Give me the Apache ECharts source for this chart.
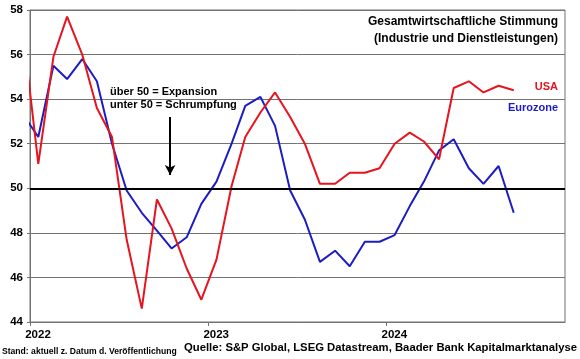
<!DOCTYPE html>
<html>
<head>
<meta charset="utf-8">
<script src="https://cdn.jsdelivr.net/npm/echarts@6/dist/echarts.min.js"></script>
<style>html,body{margin:0;padding:0;background:#fff}#c{width:580px;height:359px}</style>
</head>
<body>
<div id="c"></div>
<script>
// Monthly publication points (Dec 2021 .. Sep 2024)
const months = ['2021-12','2022-01','2022-02','2022-03','2022-04','2022-05','2022-06','2022-07','2022-08','2022-09','2022-10','2022-11','2022-12',
  '2023-01','2023-02','2023-03','2023-04','2023-05','2023-06','2023-07','2023-08','2023-09','2023-10','2023-11','2023-12',
  '2024-01','2024-02','2024-03','2024-04','2024-05','2024-06','2024-07','2024-08','2024-09'];
const usa = [57.0,51.1,55.9,57.7,56.0,53.6,52.3,47.7,44.6,49.5,48.2,46.4,45.0,
  46.8,50.1,52.3,53.4,54.3,53.2,52.0,50.2,50.2,50.7,50.7,50.9,
  52.0,52.5,52.1,51.3,54.5,54.8,54.3,54.6,54.4];
const eurozone = [53.3,52.3,55.5,54.9,55.8,54.8,52.0,49.9,48.9,48.1,47.3,47.8,49.3,
  50.3,52.0,53.7,54.1,52.8,49.9,48.6,46.7,47.2,46.5,47.6,47.6,
  47.9,49.2,50.3,51.7,52.2,50.9,50.2,51.0,48.9];
const yTicks = [44,46,48,50,52,54,56,58];
const yearLabels = ['2022','2023','2024'];

const pubDay = '-18';
const FONT = "'Liberation Sans', Arial, sans-serif";
const toPairs = arr => arr.map((v,i) => [months[i] + pubDay, v]);

const chart = echarts.init(document.getElementById('c'), null, {renderer:'canvas'});
chart.setOption({
  animation: false,
  backgroundColor: '#fff',
  grid: {left: 30, right: 15, top: 10, bottom: 37, show: true, borderColor: '#737373', borderWidth: 1},
  xAxis: {
    type: 'time',
    min: '2022-01-01', max: '2025-01-01',
    minInterval: 365*24*3600*1000, maxInterval: 366*24*3600*1000,
    axisLine: {lineStyle: {color: '#737373', width: 1}},
    axisTick: {show: true, length: 4, lineStyle: {color: '#737373'}},
    splitLine: {show: false},
    axisLabel: {
      color: '#000', fontFamily: FONT, fontWeight: 'bold', fontSize: 11.5, margin: 7,
      padding: [0,0,0,16],
      formatter: function (val) {
        const y = String(new Date(val).getFullYear());
        return yearLabels.indexOf(y) >= 0 ? y : '';
      }
    }
  },
  yAxis: {
    type: 'value', min: yTicks[0], max: yTicks[yTicks.length-1], interval: 2,
    axisLine: {show: true, lineStyle: {color: '#737373'}},
    axisTick: {show: true, length: 3, lineStyle: {color: '#737373'}},
    splitLine: {lineStyle: {color: '#737373', width: 1}},
    axisLabel: {color: '#000', fontFamily: FONT, fontWeight: 'bold', fontSize: 11.5, margin: 7}
  },
  series: [
    {
      name: 'Eurozone', type: 'line', data: toPairs(eurozone), showSymbol: false, clip: true,
      lineStyle: {color: '#1c1cc4', width: 2}, itemStyle: {color: '#1c1cc4'}, z: 3,
      markLine: {
        silent: true, symbol: ['none','none'], label: {show: false},
        lineStyle: {color: '#000', width: 2, type: 'solid'},
        data: [{yAxis: 50}]
      }
    },
    {
      name: 'USA', type: 'line', data: toPairs(usa), showSymbol: false, clip: true,
      lineStyle: {color: '#e6141e', width: 2}, itemStyle: {color: '#e6141e'}, z: 4,
      markLine: {
        silent: true, symbol: ['none','arrow'], symbolSize: [8, 10], label: {show: false},
        lineStyle: {color: '#000', width: 2, type: 'solid'},
        data: [[{coord: ['2022-10-15', 53.2]}, {coord: ['2022-10-15', 50.6]}]]
      }
    }
  ],
  graphic: [
    {type: 'text', right: 22, top: 13, style: {text: 'Gesamtwirtschaftliche Stimmung\n(Industrie und Dienstleistungen)', textAlign: 'right', font: "bold 12px " + FONT, lineHeight: 17, fill: '#000'}},
    {type: 'text', right: 22, top: 81, style: {text: 'USA', font: "bold 11px " + FONT, fill: '#e6141e'}},
    {type: 'text', right: 22, top: 102, style: {text: 'Eurozone', font: "bold 11px " + FONT, fill: '#1c1cc4'}},
    {type: 'text', left: 110, top: 86, style: {text: 'über 50 = Expansion\nunter 50 = Schrumpfung', font: "bold 11px " + FONT, lineHeight: 12.5, fill: '#000'}},
    {type: 'text', left: 2, top: 347, style: {text: 'Stand: aktuell z. Datum d. Veröffentlichung', font: "bold 8.6px " + FONT, fill: '#000'}},
    {type: 'text', left: 184, top: 342, style: {text: 'Quelle: S&P Global, LSEG Datastream, Baader Bank Kapitalmarktanalyse', font: "bold 11.3px " + FONT, fill: '#000'}}
  ]
});
</script>
</body>
</html>
